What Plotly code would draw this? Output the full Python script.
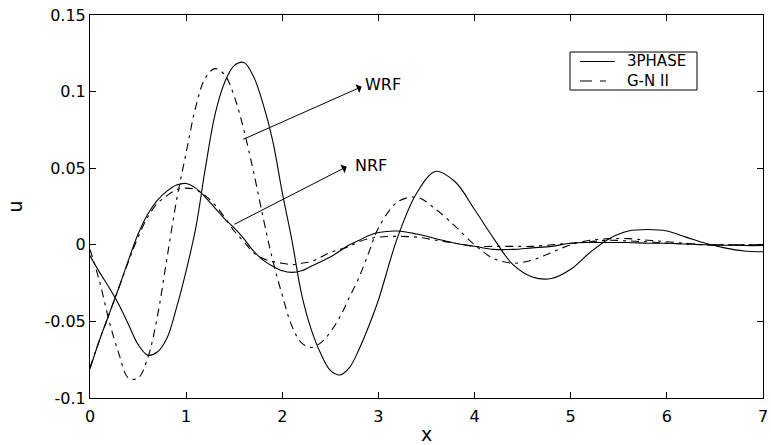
import plotly.graph_objects as go

# ---- data ----
x_vals = [0.0, 0.1, 0.2, 0.3, 0.4, 0.5, 0.6, 0.7, 0.8, 0.9,
          1.0, 1.1, 1.2, 1.3, 1.4, 1.5, 1.6, 1.7, 1.8, 1.9,
          2.0, 2.1, 2.2, 2.3, 2.4, 2.5, 2.6, 2.7, 2.8, 2.9,
          3.0, 3.2, 3.4, 3.6, 3.8, 4.0, 4.2, 4.4, 4.6, 4.8,
          5.0, 5.2, 5.4, 5.6, 5.8, 6.0, 6.2, 6.4, 6.6, 6.8, 7.0]

wrf_3phase = [-0.007, -0.018, -0.028, -0.039, -0.052, -0.065, -0.072, -0.070, -0.061, -0.041,
              -0.017, 0.011, 0.050, 0.085, 0.106, 0.117, 0.119, 0.110, 0.092, 0.068,
              0.034, 0.003, -0.032, -0.055, -0.071, -0.082, -0.085, -0.080, -0.068, -0.053,
              -0.036, 0.005, 0.034, 0.048, 0.041, 0.023, 0.004, -0.013, -0.021, -0.022,
              -0.016, -0.005, 0.004, 0.009, 0.010, 0.009, 0.005, 0.001, -0.002, -0.004, -0.0045]

wrf_gn2 = [-0.003, -0.024, -0.050, -0.071, -0.087, -0.087, -0.074, -0.047, -0.009, 0.029,
           0.060, 0.090, 0.109, 0.115, 0.111, 0.097, 0.075, 0.048, 0.018, -0.010,
           -0.033, -0.053, -0.064, -0.067, -0.064, -0.057, -0.047, -0.034, -0.021, -0.005,
           0.011, 0.028, 0.031, 0.023, 0.012, 0.000, -0.009, -0.012, -0.010, -0.005,
           0.000, 0.003, 0.004, 0.004, 0.003, 0.002, 0.001, 0.000, 0.000, 0.000, 0.000]

nrf_3phase = [-0.081, -0.062, -0.045, -0.028, -0.010, 0.007, 0.020, 0.029, 0.035, 0.039,
              0.040, 0.037, 0.031, 0.024, 0.017, 0.011, 0.004, -0.004, -0.010, -0.014,
              -0.017, -0.018, -0.017, -0.014, -0.011, -0.008, -0.004, 0.000, 0.003, 0.006,
              0.008, 0.009, 0.007, 0.004, 0.001, -0.001, -0.003, -0.003, -0.002, -0.001,
              0.001, 0.0015, 0.0015, 0.0015, 0.001, 0.001, 0.0005, 0.000, -0.0003, -0.0005, -0.0005]

nrf_gn2 = [-0.080, -0.062, -0.045, -0.028, -0.011, 0.005, 0.018, 0.027, 0.032, 0.036,
           0.037, 0.036, 0.032, 0.026, 0.018, 0.009, 0.002, -0.005, -0.009, -0.011,
           -0.012, -0.013, -0.012, -0.011, -0.008, -0.005, -0.003, -0.001, 0.002, 0.004,
           0.005, 0.0055, 0.005, 0.003, 0.001, -0.001, -0.001, -0.001, -0.001, 0.000,
           0.001, 0.002, 0.003, 0.0025, 0.002, 0.001, 0.0005, 0.000, 0.000, 0.000, 0.000]

x_ticks = [0, 1, 2, 3, 4, 5, 6, 7]
y_ticks = [-0.1, -0.05, 0, 0.05, 0.1, 0.15]
y_ticklabels = ["-0.1", "-0.05", "0", "0.05", "0.1", "0.15"]
legend_names = ["3PHASE", "G-N II"]

FONT = "DejaVu Sans"
FS = 16
LFS = 15
DASH = "8px,5px,3px,5px"
solid = dict(color="black", width=1.1)
dashed = dict(color="black", width=1.1, dash=DASH)

W, H = 771, 445
ML, MR, MT, MB = 90, 8, 15, 47
PW, PH = W - ML - MR, H - MT - MB


def px_x(p):
    return (p - ML) / PW


def px_y(p):
    return (H - MB - p) / PH


fig = go.Figure()
fig.add_trace(go.Scatter(x=x_vals, y=wrf_3phase, mode="lines", line=dict(**solid, shape="spline"),
                         name=legend_names[0], showlegend=False))
fig.add_trace(go.Scatter(x=x_vals, y=wrf_gn2, mode="lines", line=dict(**dashed, shape="spline"),
                         name=legend_names[1], showlegend=False))
fig.add_trace(go.Scatter(x=x_vals, y=nrf_3phase, mode="lines", line=dict(**solid, shape="spline"),
                         name=legend_names[0], showlegend=False))
fig.add_trace(go.Scatter(x=x_vals, y=nrf_gn2, mode="lines", line=dict(**dashed, shape="spline"),
                         name=legend_names[1], showlegend=False))

# arrows
for (hx, hy, tx, ty) in [(2.826, 0.1032, 1.578, 0.0684), (2.670, 0.0510, 1.487, 0.0129)]:
    fig.add_annotation(x=hx, y=hy, ax=tx, ay=ty, xref="x", yref="y", axref="x", ayref="y",
                       text="", showarrow=True, arrowhead=1, arrowsize=1.6, arrowwidth=1,
                       arrowcolor="black")
fig.add_annotation(x=2.84, y=0.1044, text="WRF", showarrow=False, xanchor="left",
                   font=dict(family=FONT, size=FS, color="black"))
fig.add_annotation(x=2.735, y=0.0516, text="NRF", showarrow=False, xanchor="left",
                   font=dict(family=FONT, size=FS, color="black"))

# legend box (drawn in paper coordinates)
fig.add_shape(type="rect", xref="paper", yref="paper", x0=px_x(570), x1=px_x(697),
              y0=px_y(90), y1=px_y(52), line=dict(color="black", width=1), fillcolor="white",
              layer="above")
fig.add_shape(type="line", xref="paper", yref="paper", x0=px_x(580), x1=px_x(615),
              y0=px_y(61.5), y1=px_y(61.5), line=dict(color="black", width=1.1), layer="above")
fig.add_shape(type="line", xref="paper", yref="paper", x0=px_x(580), x1=px_x(606),
              y0=px_y(81), y1=px_y(81),
              line=dict(color="black", width=1.1, dash="12px,8px,6px,20px"), layer="above")
fig.add_annotation(xref="paper", yref="paper", x=px_x(626), y=px_y(71.2),
                   text="<br>".join(legend_names), align="left",
                   showarrow=False, xanchor="left", yanchor="middle", borderpad=0,
                   font=dict(family=FONT, size=LFS, color="black"))

axis_common = dict(showline=True, linecolor="black", linewidth=1, mirror="ticks",
                   ticks="inside", ticklen=6, tickcolor="black", showgrid=False,
                   zeroline=False, automargin=False,
                   tickfont=dict(family=FONT, size=FS, color="black"))

fig.update_layout(
    width=W, height=H,
    margin=dict(l=ML, r=MR, t=MT, b=MB, autoexpand=False),
    paper_bgcolor="white", plot_bgcolor="white",
    font=dict(family=FONT, size=FS, color="black"),
    xaxis=dict(range=[0, 7], tickvals=x_ticks, ticklabelstandoff=4,
               title=dict(text="x", standoff=9), **axis_common),
    yaxis=dict(range=[-0.1, 0.15], tickvals=y_ticks, ticktext=y_ticklabels,
               title=dict(text="u", standoff=16), **axis_common),
    showlegend=False,
)

fig.write_html("out.html")
